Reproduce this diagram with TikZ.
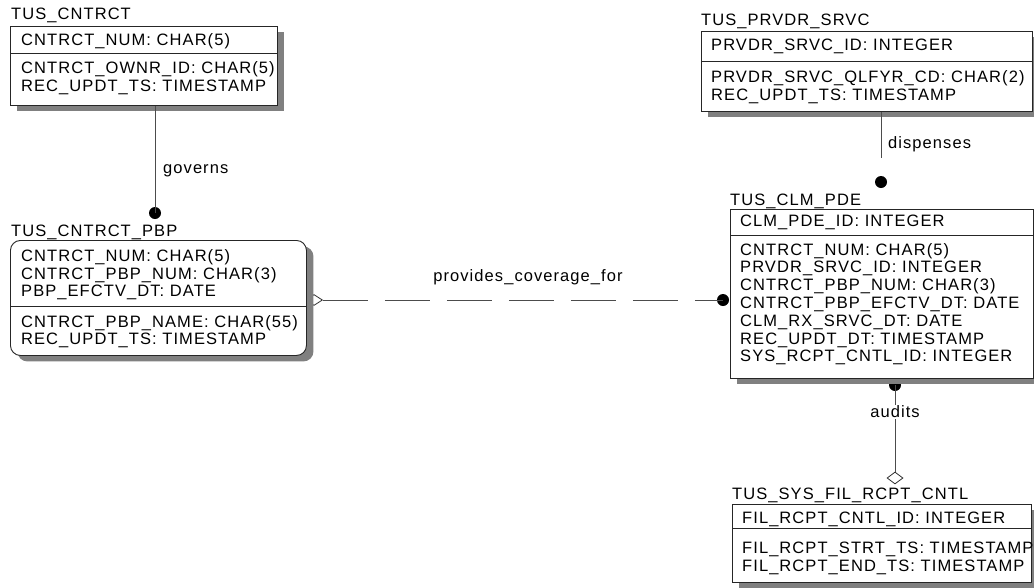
\documentclass[tikz,border=0pt]{standalone}
\usepackage{fontspec}
\setmainfont{Liberation Sans}[LetterSpace=6.5]
\usetikzlibrary{shapes.geometric,shadows}
\begin{document}
\begin{tikzpicture}[x=1pt,y=-1pt,
  font=\fontsize{16.5pt}{18pt}\selectfont,
  ent/.style={draw=black!85, line width=0.9pt, fill=white, anchor=north west, inner sep=0pt,
    drop shadow={shadow xshift=7pt, shadow yshift=-6pt, fill=black!50, opacity=1}},
  txt/.style={anchor=base west, inner sep=0pt},
  rel/.style={draw=black!70, line width=0.9pt},
  dotn/.style={circle, fill=black, inner sep=0pt, minimum size=12pt},
  diam/.style={diamond, draw=black!80, fill=white, inner sep=0pt, minimum width=17pt, minimum height=11pt, line width=0.8pt},
  divl/.style={draw=black!85, line width=0.9pt},
  lbl/.style={inner sep=1pt}]
\useasboundingbox (0,0) rectangle (1034,587);
\fill[white] (0,0) rectangle (1034,587);

% ---- markers drawn first (partly under shadows)
\node[diam] (pdiam) at (314,300) {};
\node[dotn] (adot) at (895,385) {};

% ---- TUS_CNTRCT
\node[txt] (t1) at (11,19) {TUS\_CNTRCT};
\node[ent, minimum width=267pt, minimum height=79pt] (cntrct) at (10,26) {};
\draw[divl] (10,53) -- (277,53);
\node[txt] (c1) at (21,45) {CNTRCT\_NUM: CHAR(5)};
\node[txt] (c2) at (21,73) {CNTRCT\_OWNR\_ID: CHAR(5)};
\node[txt] (c3) at (21,91) {REC\_UPDT\_TS: TIMESTAMP};

% ---- TUS_CNTRCT_PBP
\node[txt] (t2) at (11,236) {TUS\_CNTRCT\_PBP};
\node[ent, rounded corners=10pt, minimum width=296pt, minimum height=115pt] (pbp) at (10,240) {};
\draw[divl] (10,306) -- (306,306);
\node[txt] (p1) at (21,261) {CNTRCT\_NUM: CHAR(5)};
\node[txt] (p2) at (21,279) {CNTRCT\_PBP\_NUM: CHAR(3)};
\node[txt] (p3) at (21,296) {PBP\_EFCTV\_DT: DATE};
\node[txt] (p4) at (21,327) {CNTRCT\_PBP\_NAME: CHAR(55)};
\node[txt] (p5) at (21,344) {REC\_UPDT\_TS: TIMESTAMP};

% ---- TUS_PRVDR_SRVC
\node[txt] (t3) at (701,25) {TUS\_PRVDR\_SRVC};
\node[ent, minimum width=331pt, minimum height=80pt] (prvdr) at (701,31) {};
\draw[divl] (701,61) -- (1032,61);
\node[txt] (r1) at (711,50) {PRVDR\_SRVC\_ID: INTEGER};
\node[txt] (r2) at (711,82) {PRVDR\_SRVC\_QLFYR\_CD: CHAR(2)};
\node[txt] (r3) at (711,100) {REC\_UPDT\_TS: TIMESTAMP};

% ---- TUS_CLM_PDE
\node[txt] (t4) at (730,205) {TUS\_CLM\_PDE};
\node[ent, minimum width=303pt, minimum height=169pt] (clm) at (730,209) {};
\draw[divl] (730,235) -- (1033,235);
\node[txt] (m0) at (740,226) {CLM\_PDE\_ID: INTEGER};
\node[txt] (m1) at (740,255) {CNTRCT\_NUM: CHAR(5)};
\node[txt] (m2) at (740,272.8) {PRVDR\_SRVC\_ID: INTEGER};
\node[txt] (m3) at (740,290.6) {CNTRCT\_PBP\_NUM: CHAR(3)};
\node[txt] (m4) at (740,308.4) {CNTRCT\_PBP\_EFCTV\_DT: DATE};
\node[txt] (m5) at (740,326.2) {CLM\_RX\_SRVC\_DT: DATE};
\node[txt] (m6) at (740,344) {REC\_UPDT\_DT: TIMESTAMP};
\node[txt] (m7) at (740,361.8) {SYS\_RCPT\_CNTL\_ID: INTEGER};

% ---- TUS_SYS_FIL_RCPT_CNTL
\node[txt] (t5) at (732,499) {TUS\_SYS\_FIL\_RCPT\_CNTL};
\node[ent, minimum width=299pt, minimum height=78pt] (sys) at (732,504) {};
\draw[divl] (732,528) -- (1031,528);
\node[txt] (s1) at (742,523) {FIL\_RCPT\_CNTL\_ID: INTEGER};
\node[txt] (s2) at (742,553) {FIL\_RCPT\_STRT\_TS: TIMESTAMP};
\node[txt] (s3) at (742,571) {FIL\_RCPT\_END\_TS: TIMESTAMP};

% ---- governs
\node[dotn] (gdot) at (155,213) {};
\draw[rel] (gdot |- cntrct.south) -- (gdot.center);
\node[lbl, anchor=west] (glbl) at (162,171) {governs};

% ---- dispenses
\node[dotn] (ddot) at (881,182) {};
\coordinate (dend) at (881,158);
\draw[rel] (dend |- prvdr.south) -- (dend);
\node[lbl, anchor=west] (dlbl) at (887,144) {dispenses};

% ---- provides_coverage_for
\node[dotn] (ldot) at (723,300) {};
\draw[rel, dash pattern=on 45pt off 17pt] (pdiam.east) -- (ldot.center);
\node[lbl] (plbl) at (528,277) {provides\_coverage\_for};

% ---- audits
\node[diam, minimum width=16pt, minimum height=12pt] (adiam) at (895,478) {};
\draw[rel] (adot.center) -- (adiam.north);
\node[lbl, fill=white] (albl) at (895,412) {audits};
\end{tikzpicture}
\end{document}
